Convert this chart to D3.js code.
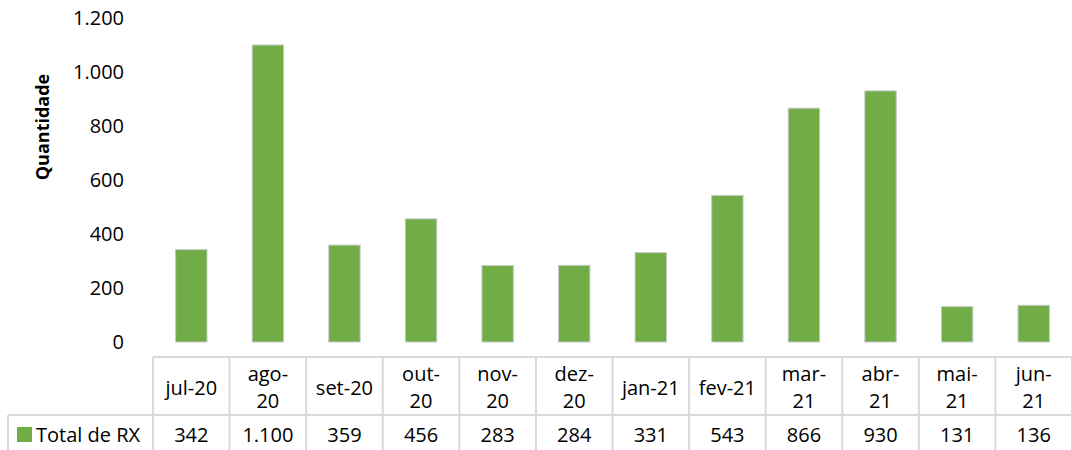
<!DOCTYPE html>
<html>
<head>
<meta charset="utf-8">
<script src="https://cdn.jsdelivr.net/npm/d3@7"></script>
<style>
  html, body { margin: 0; padding: 0; background: #fff; }
  svg { display: block; }
  text { font-family: "Open Sans", "Noto Sans", sans-serif; fill: #000; }
</style>
</head>
<body>
<svg id="chart" width="1072" height="450"></svg>
<script>
// Monthly totals of X-ray exams
const months = ["jul-20", "ago-20", "set-20", "out-20", "nov-20", "dez-20",
                "jan-21", "fev-21", "mar-21", "abr-21", "mai-21", "jun-21"];
// Category labels as they wrap inside the data table cells
const monthLines = [["jul-20"], ["ago-", "20"], ["set-20"], ["out-", "20"], ["nov-", "20"], ["dez-", "20"],
                    ["jan-21"], ["fev-21"], ["mar-", "21"], ["abr-", "21"], ["mai-", "21"], ["jun-", "21"]];
const totalRX = [342, 1100, 359, 456, 283, 284, 331, 543, 866, 930, 131, 136];
const seriesName = "Total de RX";
const yTicks = [0, 200, 400, 600, 800, 1000, 1200];
const yTitle = "Quantidade";

const svg = d3.select("#chart");
const green = "#70ad47";
const gridGray = "#d9d9d9";
const fontSize = 20;

const fmt = d3.formatLocale({ decimal: ",", thousands: ".", grouping: [3], currency: ["R$", ""] }).format(",d");

const x = d3.scaleBand()
  .domain(months)
  .range([153, 1072])
  .paddingInner(0.59)
  .paddingOuter(0.295);
const step = x.step();

const y = d3.scaleLinear().domain([0, 1200]).range([342, 18]);

// Y axis: labels only, no axis line or tick marks
const yAxis = svg.append("g")
  .attr("transform", "translate(124,0)")
  .call(d3.axisLeft(y).tickValues(yTicks).tickFormat(fmt).tickSize(0).tickPadding(0));
yAxis.select(".domain").remove();
yAxis.selectAll("text")
  .style("font-family", "'Open Sans', 'Noto Sans', sans-serif")
  .style("font-size", fontSize + "px")
  .attr("fill", "#000");

// Axis title
svg.append("text")
  .attr("transform", "translate(42,127) rotate(-90)")
  .attr("text-anchor", "middle")
  .attr("dominant-baseline", "central")
  .style("font-size", "18px")
  .style("font-weight", "bold")
  .text(yTitle);

// Bars
svg.append("g").selectAll("rect")
  .data(totalRX)
  .join("rect")
  .attr("x", (d, i) => x(months[i]))
  .attr("y", d => y(d))
  .attr("width", x.bandwidth())
  .attr("height", d => y(0) - y(d))
  .attr("fill", green)
  .attr("stroke", "#c8c8c8")
  .attr("stroke-width", 1);

// Data table below the plot
const tableTop = 357, rowLine = 415, tableBottom = 452, left = 8;
const x0 = x.range()[0];
const grid = svg.append("g").attr("stroke", gridGray).attr("stroke-width", 2).attr("fill", "none");
grid.append("line").attr("x1", x0).attr("x2", 1072).attr("y1", tableTop).attr("y2", tableTop);
grid.append("line").attr("x1", left).attr("x2", 1072).attr("y1", rowLine).attr("y2", rowLine);
grid.append("line").attr("x1", left).attr("x2", left).attr("y1", rowLine).attr("y2", tableBottom);
grid.selectAll("line.v")
  .data(d3.range(months.length + 1))
  .join("line")
  .attr("class", "v")
  .attr("x1", i => x0 + i * step)
  .attr("x2", i => x0 + i * step)
  .attr("y1", tableTop)
  .attr("y2", tableBottom);

// Category header cells
const lineH = 27;
const headerMid = (tableTop + rowLine) / 2 + 1;
svg.append("g").selectAll("text")
  .data(monthLines)
  .join("text")
  .attr("text-anchor", "middle")
  .style("font-size", fontSize + "px")
  .each(function (lines, i) {
    const cx = x(months[i]) + x.bandwidth() / 2;
    const t = d3.select(this);
    lines.forEach((ln, k) => {
      t.append("tspan")
        .attr("x", cx)
        .attr("y", headerMid + (k - (lines.length - 1) / 2) * lineH)
        .attr("dominant-baseline", "central")
        .text(ln);
    });
  });

// Value row
const valueMid = 434;
svg.append("g").selectAll("text")
  .data(totalRX)
  .join("text")
  .attr("x", (d, i) => x(months[i]) + x.bandwidth() / 2)
  .attr("y", valueMid)
  .attr("text-anchor", "middle")
  .attr("dominant-baseline", "central")
  .style("font-size", fontSize + "px")
  .text(d => fmt(d));

// Legend key in the row header
svg.append("rect")
  .attr("x", 17).attr("y", 427).attr("width", 15).attr("height", 15)
  .attr("fill", green);
svg.append("text")
  .attr("x", 36)
  .attr("y", valueMid)
  .attr("dominant-baseline", "central")
  .style("font-size", fontSize + "px")
  .text(seriesName);
</script>
</body>
</html>
